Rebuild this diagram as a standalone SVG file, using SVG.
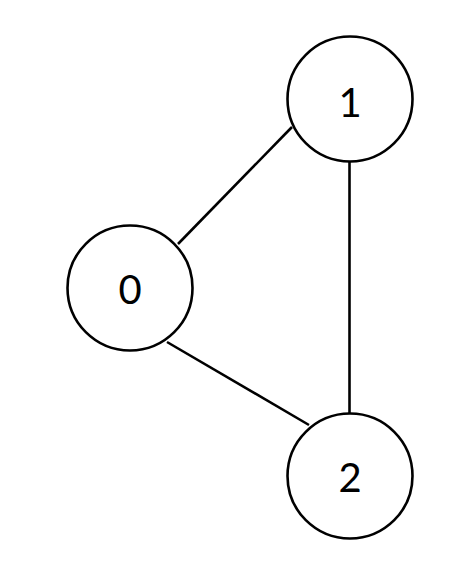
<svg xmlns="http://www.w3.org/2000/svg" width="463" height="565" viewBox="0 0 463 565">
<style>
.node circle{fill:#fff;stroke:#000;stroke-width:2.6}
.node text{font-family:Lato,"Liberation Sans",sans-serif;font-size:40px;fill:#000;text-anchor:middle;dominant-baseline:central}
.edges line{stroke:#000;stroke-width:2.6}
</style>
<rect width="463" height="565" fill="#fff"/>
<g id="edges" class="edges">
<line x1="178" y1="244" x2="292" y2="127"/>
<line x1="349.5" y1="161" x2="349.5" y2="415"/>
<line x1="167" y1="342" x2="309" y2="425"/>
</g>
<g id="node0" class="node"><circle cx="130" cy="288" r="62.5"/><text x="130" y="289">0</text></g>
<g id="node1" class="node"><circle cx="350" cy="99" r="62.5"/><text x="350" y="102">1</text></g>
<g id="node2" class="node"><circle cx="350" cy="476" r="62.5"/><text x="350" y="477">2</text></g>
</svg>
